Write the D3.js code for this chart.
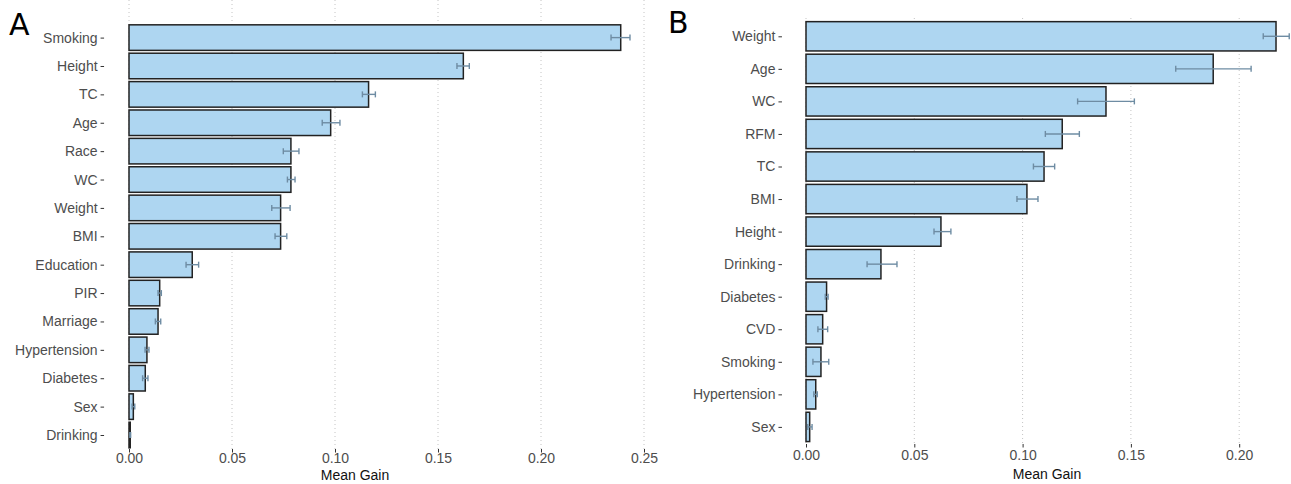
<!DOCTYPE html>
<html>
<head>
<meta charset="utf-8">
<script src="https://cdn.jsdelivr.net/npm/d3@7"></script>
<style>
  html, body { margin: 0; padding: 0; background: #fff; }
  svg { display: block; font-family: "Liberation Sans", Arial, sans-serif; }
</style>
</head>
<body>
<svg id="chart" width="1291" height="484"></svg>
<script>
// Panel A: feature importance (mean gain) with error bars
const catsA = ["Smoking","Height","TC","Age","Race","WC","Weight","BMI","Education","PIR","Marriage","Hypertension","Diabetes","Sex","Drinking"];
const gainA = [0.2387,0.1623,0.1163,0.0979,0.0786,0.0786,0.0736,0.0736,0.0307,0.0149,0.0141,0.0087,0.0079,0.0021,0.0006];
const lowA  = [0.2340,0.1592,0.1133,0.0938,0.0749,0.0769,0.0693,0.0709,0.0277,0.0141,0.0128,0.0078,0.0066,0.0015,0.0004];
const highA = [0.2432,0.1652,0.1196,0.1024,0.0825,0.0806,0.0782,0.0766,0.0338,0.0157,0.0154,0.0097,0.0092,0.0028,0.0008];
const ticksA = [0, 0.05, 0.10, 0.15, 0.20, 0.25];

// Panel B
const catsB = ["Weight","Age","WC","RFM","TC","BMI","Height","Drinking","Diabetes","CVD","Smoking","Hypertension","Sex"];
const gainB = [0.2170,0.1880,0.1385,0.1183,0.1099,0.1020,0.0623,0.0346,0.0095,0.0077,0.0069,0.0045,0.0017];
const lowB  = [0.2111,0.1707,0.1254,0.1105,0.1050,0.0974,0.0591,0.0282,0.0089,0.0055,0.0032,0.0036,0.0008];
const highB = [0.2231,0.2055,0.1516,0.1262,0.1148,0.1071,0.0669,0.0420,0.0102,0.0100,0.0105,0.0052,0.0028];
const ticksB = [0, 0.05, 0.10, 0.15, 0.20];

const svg = d3.select("#chart");

function drawPanel(cfg) {
  const g = svg.append("g");
  const x = d3.scaleLinear().domain([0, cfg.xMaxRef]).range([cfg.x0, cfg.xRef]);
  const y = d3.scalePoint().domain(cfg.cats).range([cfg.yFirst, cfg.yLast]);
  const bh = y.step() * 0.9;
  const left = x(-cfg.expand);

  // dotted vertical grid lines
  g.selectAll("line.grid").data(cfg.ticks).join("line")
    .attr("x1", d => x(d)).attr("x2", d => x(d))
    .attr("y1", cfg.top).attr("y2", cfg.bottom)
    .attr("stroke", "#c4c4c4").attr("stroke-width", 1)
    .attr("stroke-dasharray", "1,3");

  const data = cfg.cats.map((c, i) => ({c, v: cfg.gain[i], lo: cfg.low[i], hi: cfg.high[i]}));

  // bars
  g.selectAll("rect.bar").data(data).join("rect")
    .attr("x", x(0))
    .attr("y", d => y(d.c) - bh / 2)
    .attr("width", d => x(d.v) - x(0))
    .attr("height", bh)
    .attr("fill", "#aed6f1")
    .attr("stroke", "#222")
    .attr("stroke-width", 1.5);

  // error bars
  const eb = g.selectAll("g.eb").data(data).join("g").attr("stroke", "#6e8ca3").attr("stroke-width", 1.4);
  eb.append("line").attr("x1", d => x(d.lo)).attr("x2", d => x(d.hi))
    .attr("y1", d => y(d.c)).attr("y2", d => y(d.c));
  eb.append("line").attr("x1", d => x(d.lo)).attr("x2", d => x(d.lo))
    .attr("y1", d => y(d.c) - 3).attr("y2", d => y(d.c) + 3);
  eb.append("line").attr("x1", d => x(d.hi)).attr("x2", d => x(d.hi))
    .attr("y1", d => y(d.c) - 3).attr("y2", d => y(d.c) + 3);

  // y axis (ticks and labels only)
  const ya = g.append("g").attr("transform", `translate(${left},0)`)
    .call(d3.axisLeft(y).tickSize(3.5).tickPadding(3));
  ya.select(".domain").remove();
  ya.selectAll(".tick line").attr("stroke", "#333");
  ya.selectAll(".tick text").attr("fill", "#4d4d4d").style("font-size", "14px")
    .style("font-family", "'Liberation Sans', Arial, sans-serif");

  // x axis
  const xa = g.append("g").attr("transform", `translate(0,${cfg.bottom})`)
    .call(d3.axisBottom(x).tickValues(cfg.ticks).tickFormat(d3.format(".2f"))
      .tickSize(3.5).tickPadding(cfg.tickPad));
  xa.select(".domain").remove();
  xa.selectAll(".tick line").attr("stroke", "#333");
  xa.selectAll(".tick text").attr("fill", "#4d4d4d").style("font-size", "14px")
    .style("font-family", "'Liberation Sans', Arial, sans-serif");

  g.append("text").attr("x", cfg.titleX).attr("y", cfg.titleY)
    .attr("text-anchor", "middle").attr("fill", "#111")
    .style("font-size", "14px").text("Mean Gain");

  svg.append("text").attr("x", cfg.tagX).attr("y", cfg.tagY)
    .attr("fill", "#000").style("font-size", "30px")
    .style("font-family", "'DejaVu Sans', sans-serif").text(cfg.tag);
}

drawPanel({
  cats: catsA, gain: gainA, low: lowA, high: highA, ticks: ticksA,
  xMaxRef: 0.25, x0: 129, xRef: 644, expand: 0.0121,
  yFirst: 37.6, yLast: 435, top: 0, bottom: 449, tickPad: 1,
  titleX: 355, titleY: 479.5, tag: "A", tagX: 9, tagY: 35
});

drawPanel({
  cats: catsB, gain: gainB, low: lowB, high: highB, ticks: ticksB,
  xMaxRef: 0.20, x0: 806, xRef: 1239.2, expand: 0.0111,
  yFirst: 36.3, yLast: 426.9, top: 18, bottom: 444, tickPad: 3,
  titleX: 1047, titleY: 478.5, tag: "B", tagX: 668, tagY: 33
});
</script>
</body>
</html>
